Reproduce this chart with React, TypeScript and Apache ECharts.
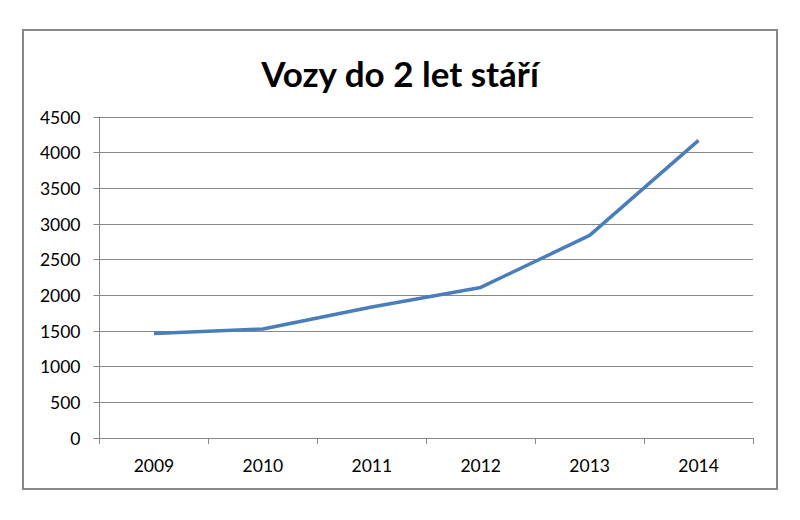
import React, { useEffect, useRef } from "react";
import * as echarts from "echarts";

const years = ["2009", "2010", "2011", "2012", "2013", "2014"];
const vehicles = [1466, 1528, 1836, 2111, 2840, 4172];

const title = "Vozy do 2 let stáří";
const font = "Lato, 'Open Sans', sans-serif";

const App: React.FC = () => {
  const chartRef = useRef<HTMLDivElement | null>(null);

  useEffect(() => {
    if (!chartRef.current) return;
    const chart = echarts.init(chartRef.current, null, { renderer: "svg" });

    const options = {
      animation: false,
      backgroundColor: "#ffffff",
      title: {
        text: title,
        left: "center",
        top: 50,
        textStyle: {
          fontFamily: font,
          fontWeight: "bold",
          fontSize: 35,
          color: "#000000",
        },
      },
      graphic: [
        {
          type: "rect",
          shape: { x: 23, y: 30, width: 754, height: 459 },
          style: { fill: "none", stroke: "#878787", lineWidth: 2 },
        },
      ],
      grid: { left: 99.5, right: 47, top: 117, bottom: 82 },
      xAxis: {
        type: "category",
        data: years,
        boundaryGap: true,
        axisLine: { lineStyle: { color: "#878787", width: 1 } },
        axisTick: { show: true, interval: 0, length: 6, lineStyle: { color: "#878787" } },
        axisLabel: { fontFamily: font, fontSize: 17.5, color: "#000000", margin: 18 },
      },
      yAxis: {
        type: "value",
        min: 0,
        max: 4500,
        interval: 500,
        axisLine: { show: true, lineStyle: { color: "#878787", width: 1 } },
        axisTick: { show: true, length: 6, lineStyle: { color: "#878787" } },
        axisLabel: {
          fontFamily: font,
          fontSize: 17.5,
          color: "#000000",
          margin: 19,
          formatter: (v: number) => String(v),
        },
        splitLine: { lineStyle: { color: "#878787", width: 1 } },
      },
      series: [
        {
          name: title,
          type: "line",
          data: vehicles,
          symbol: "none",
          lineStyle: { color: "#4A7EBB", width: 3.5 },
        },
      ],
    };

    chart.setOption(options);

    return () => {
      chart.dispose();
    };
  }, []);

  return (
    <div
      ref={chartRef}
      style={{ position: "fixed", left: 0, top: 0, width: "800px", height: "520px" }}
    />
  );
};

export default App;
